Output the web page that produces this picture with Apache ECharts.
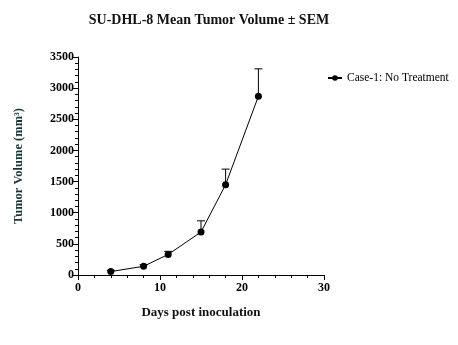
<!DOCTYPE html>
<html><head><meta charset="utf-8">
<script src="https://cdn.jsdelivr.net/npm/echarts@6/dist/echarts.min.js"></script>
<style>html,body{margin:0;padding:0;background:#fff}#c{width:458px;height:345px}</style>
</head><body><div id="c"></div>
<script>
var days = [4, 8, 11, 15, 18, 22];
var meanVolume = [55, 140, 330, 690, 1450, 2870];
var semVolume = [20, 25, 50, 180, 250, 440];
var seriesName = 'Case-1: No Treatment';

var chart = echarts.init(document.getElementById('c'));
var F = 'Liberation Serif, Times New Roman, serif';
var lineData = days.map(function(d,i){return [d, meanVolume[i]];});
var errData = days.map(function(d,i){return [d, meanVolume[i], meanVolume[i]+semVolume[i]];});
chart.setOption({
  animation:false,
  title:{text:'SU-DHL-8 Mean Tumor Volume ± SEM',left:204,textAlign:'center',top:8,
    textStyle:{fontFamily:F,fontWeight:'bold',fontSize:14,color:'#111'}},
  legend:{left:322,top:67,itemWidth:14,itemHeight:7,itemGap:5,
    textStyle:{fontFamily:F,fontSize:11.5,color:'#000'},data:[{name:seriesName}]},
  grid:{left:78,right:134,top:57,bottom:70},
  xAxis:{type:'value',min:0,max:30,interval:10,
    name:'Days post inoculation',nameLocation:'middle',nameGap:31,
    nameTextStyle:{fontFamily:F,fontWeight:'bold',fontSize:13,color:'#111'},
    axisLine:{lineStyle:{color:'#000',width:1}},
    axisTick:{show:true,length:5,lineStyle:{color:'#000'}},
    minorTick:{show:true,splitNumber:5,length:3,lineStyle:{color:'#000'}},
    splitLine:{show:false},
    axisLabel:{fontFamily:F,fontWeight:'bold',fontSize:12,color:'#000',margin:7,
      formatter:function(v){return String(v);}}},
  yAxis:{type:'value',min:0,max:3500,interval:500,
    name:'Tumor Volume (mm³)',nameLocation:'middle',nameGap:53,nameRotate:90,
    nameTextStyle:{fontFamily:F,fontWeight:'bold',fontSize:12.5,color:'#1b3535'},
    axisLine:{show:true,lineStyle:{color:'#000',width:1}},
    axisTick:{show:true,length:5,lineStyle:{color:'#000'}},
    minorTick:{show:true,splitNumber:5,length:3,lineStyle:{color:'#000'}},
    splitLine:{show:false},
    axisLabel:{fontFamily:F,fontWeight:'bold',fontSize:12,color:'#000',margin:4,
      formatter:function(v){return String(v);}}},
  series:[
    {name:seriesName,type:'line',data:lineData,symbol:'circle',symbolSize:7,
     lineStyle:{color:'#000',width:1},itemStyle:{color:'#000'},z:3},
    {type:'custom',name:'err',data:errData,z:2,
     renderItem:function(params,api){
       var x=api.value(0);
       var p0=api.coord([x,api.value(1)]);
       var p1=api.coord([x,api.value(2)]);
       var w=4;
       return {type:'group',children:[
         {type:'line',shape:{x1:p0[0],y1:p0[1],x2:p1[0],y2:p1[1]},style:{stroke:'#000',lineWidth:1}},
         {type:'line',shape:{x1:p1[0]-w,y1:p1[1],x2:p1[0]+w,y2:p1[1]},style:{stroke:'#000',lineWidth:1}}
       ]};
     }}
  ]
});
</script></body></html>
